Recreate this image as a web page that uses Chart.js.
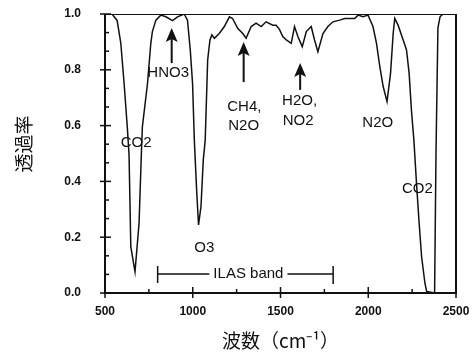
<!DOCTYPE html>
<html>
<head>
<meta charset="utf-8">
<script src="https://cdn.jsdelivr.net/npm/chart.js@4/dist/chart.umd.min.js"></script>
<style>
  html, body { margin: 0; padding: 0; background: #fff; }
  #wrap { width: 476px; height: 355px; }
</style>
</head>
<body>
<div id="wrap"><canvas id="chart"></canvas></div>
<script>
// transmittance spectrum
const wavenumber = [500, 540, 569, 590, 609, 627, 637, 647, 671, 694, 707, 713, 742, 761, 770, 790, 818, 847, 885, 913, 951, 970, 986, 999, 1009, 1022, 1033, 1047, 1060, 1071, 1085, 1098, 1109, 1123, 1151, 1180, 1209, 1227, 1256, 1285, 1304, 1333, 1361, 1390, 1418, 1456, 1475, 1494, 1513, 1533, 1561, 1580, 1599, 1624, 1647, 1675, 1694, 1713, 1742, 1770, 1799, 1837, 1866, 1923, 1942, 1970, 1999, 2027, 2047, 2066, 2085, 2107, 2127, 2142, 2151, 2170, 2199, 2218, 2233, 2246, 2260, 2275, 2290, 2304, 2323, 2333, 2378, 2386, 2397, 2409, 2426, 2500];
const transmittance = [1.0, 1.0, 0.977, 0.896, 0.75, 0.595, 0.495, 0.166, 0.076, 0.25, 0.495, 0.596, 0.75, 0.895, 0.937, 0.978, 0.996, 0.99, 0.976, 0.99, 1.0, 0.978, 0.87, 0.75, 0.548, 0.37, 0.244, 0.31, 0.477, 0.548, 0.835, 0.907, 0.925, 0.913, 0.93, 0.955, 0.99, 0.984, 0.949, 0.93, 0.913, 0.955, 0.967, 0.955, 0.972, 0.96, 0.96, 0.945, 0.919, 0.907, 0.895, 0.955, 0.919, 0.883, 0.937, 0.955, 0.907, 0.865, 0.93, 0.955, 0.972, 0.978, 0.984, 0.984, 0.996, 0.99, 0.996, 0.955, 0.895, 0.811, 0.74, 0.686, 0.787, 0.93, 0.984, 0.96, 0.907, 0.871, 0.787, 0.656, 0.548, 0.393, 0.25, 0.13, 0.035, 0.005, 0.0, 0.5, 0.95, 0.99, 1.0, 1.0];

// molecule labels (data units)
const labelText = ['CO2', 'HNO3', 'CH4,', 'N2O', 'H2O,', 'NO2', 'N2O', 'CO2', 'O3'];
const labelX = [677, 860, 1294, 1290, 1609, 1600, 2054, 2280, 1066];
const labelY = [0.538, 0.79, 0.668, 0.599, 0.688, 0.616, 0.609, 0.373, 0.161];

// arrows pointing at absorption features
const arrowX = [880, 1290, 1612];
const arrowTail = [0.824, 0.756, 0.728];
const arrowHead = [0.950, 0.900, 0.824];

// ILAS band range
const bandStart = 800;
const bandEnd = 1800;
const bandLevel = 0.068;
const bandText = 'ILAS band';

const xTicks = [500, 1000, 1500, 2000, 2500];
const yTicks = [0.0, 0.2, 0.4, 0.6, 0.8, 1.0];

const points = wavenumber.map((w, i) => ({ x: w, y: transmittance[i] }));

const ink = '#111';
const labelFont = '15px "Liberation Sans", Arial, sans-serif';

const decorations = {
  id: 'decorations',
  afterDatasetsDraw(chart) {
    const ctx = chart.ctx;
    const xs = chart.scales.x;
    const ys = chart.scales.y;
    const a = chart.chartArea;
    ctx.save();
    ctx.strokeStyle = ink;
    ctx.fillStyle = ink;

    // frame
    ctx.lineWidth = 2;
    ctx.beginPath();
    ctx.moveTo(a.left, a.top);
    ctx.lineTo(a.left, a.bottom);
    ctx.lineTo(a.right, a.bottom);
    ctx.lineTo(a.right, a.top);
    ctx.stroke();
    ctx.lineWidth = 1;
    ctx.beginPath();
    ctx.moveTo(a.left, a.top + 0.5);
    ctx.lineTo(a.right, a.top + 0.5);
    ctx.stroke();

    // ticks on x axis, every 250, majors cross the axis
    ctx.lineWidth = 1.5;
    for (let v = 500; v <= 2500; v += 250) {
      const px = xs.getPixelForValue(v);
      const major = v % 500 === 0;
      ctx.beginPath();
      ctx.moveTo(px, a.bottom + (major ? 5 : 0));
      ctx.lineTo(px, a.bottom - (major ? 6 : 4));
      ctx.stroke();
    }
    // ticks on y axis, three per major step
    for (let i = 0; i <= 15; i++) {
      const v = i * 0.2 / 3;
      const py = ys.getPixelForValue(v);
      const major = i % 3 === 0;
      ctx.beginPath();
      ctx.moveTo(a.left - (major ? 5 : 0), py);
      ctx.lineTo(a.left + (major ? 6 : 4), py);
      ctx.stroke();
    }

    // molecule labels
    ctx.font = labelFont;
    ctx.textAlign = 'center';
    ctx.textBaseline = 'middle';
    labelText.forEach((t, i) => {
      ctx.fillText(t, xs.getPixelForValue(labelX[i]), ys.getPixelForValue(labelY[i]));
    });

    // arrows
    arrowX.forEach((v, i) => {
      const px = xs.getPixelForValue(v);
      const tail = ys.getPixelForValue(arrowTail[i]);
      const head = ys.getPixelForValue(arrowHead[i]);
      ctx.lineWidth = 2;
      ctx.beginPath();
      ctx.moveTo(px, tail);
      ctx.lineTo(px, head + 10);
      ctx.stroke();
      ctx.beginPath();
      ctx.moveTo(px, head);
      ctx.lineTo(px - 6, head + 14);
      ctx.lineTo(px, head + 11);
      ctx.lineTo(px + 6, head + 14);
      ctx.closePath();
      ctx.fill();
    });

    // ILAS band bracket
    const x0 = xs.getPixelForValue(bandStart);
    const x1 = xs.getPixelForValue(bandEnd);
    const yb = ys.getPixelForValue(bandLevel);
    const mid = (x0 + x1) / 2 + 3;
    const half = ctx.measureText(bandText).width / 2 + 4;
    ctx.lineWidth = 1.5;
    ctx.beginPath();
    ctx.moveTo(x0, yb); ctx.lineTo(mid - half, yb);
    ctx.moveTo(mid + half, yb); ctx.lineTo(x1, yb);
    ctx.moveTo(x0, yb - 8); ctx.lineTo(x0, yb + 9);
    ctx.moveTo(x1, yb - 8); ctx.lineTo(x1, yb + 10);
    ctx.stroke();
    ctx.fillText(bandText, mid, yb);

    ctx.restore();
  }
};

// hidden tick marks only used to push the labels away from the axes
const hiddenGrid = (len) => ({
  display: true,
  drawOnChartArea: false,
  drawTicks: true,
  tickLength: len,
  color: 'rgba(0,0,0,0)'
});

new Chart(document.getElementById('chart'), {
  type: 'line',
  data: {
    datasets: [{
      data: points,
      borderColor: ink,
      borderWidth: 1.5,
      pointRadius: 0,
      tension: 0,
      fill: false
    }]
  },
  options: {
    responsive: true,
    maintainAspectRatio: false,
    animation: false,
    events: [],
    layout: { padding: { top: 14, right: 20, left: 0, bottom: 0 } },
    plugins: { legend: { display: false }, tooltip: { enabled: false } },
    scales: {
      x: {
        type: 'linear',
        min: 500,
        max: 2500,
        afterFit: s => { s.height = 62; },
        afterBuildTicks: s => { s.ticks = xTicks.map(v => ({ value: v })); },
        grid: hiddenGrid(11),
        border: { display: false },
        ticks: {
          padding: 0,
          maxRotation: 0,
          color: ink,
          font: { family: '"Liberation Sans", Arial, sans-serif', size: 12, weight: 'bold' },
          callback: v => String(v)
        },
        title: {
          display: true,
          text: '波数（cm⁻¹）',
          color: ink,
          padding: { top: 0, bottom: 3 },
          font: { family: '"Noto Sans CJK JP", sans-serif', size: 19 }
        }
      },
      y: {
        min: 0,
        max: 1,
        afterFit: s => { s.width = 105; },
        afterBuildTicks: s => { s.ticks = yTicks.map(v => ({ value: v })); },
        grid: hiddenGrid(24),
        border: { display: false },
        ticks: {
          padding: 0,
          color: ink,
          font: { family: '"Liberation Sans", Arial, sans-serif', size: 12, weight: 'bold' },
          callback: v => v.toFixed(1)
        },
        title: {
          display: true,
          text: '\u3000透過率',
          color: ink,
          padding: { top: 12, bottom: 0 },
          font: { family: '"Noto Sans CJK JP", sans-serif', size: 19 }
        }
      }
    }
  },
  plugins: [decorations]
});
</script>
</body>
</html>
